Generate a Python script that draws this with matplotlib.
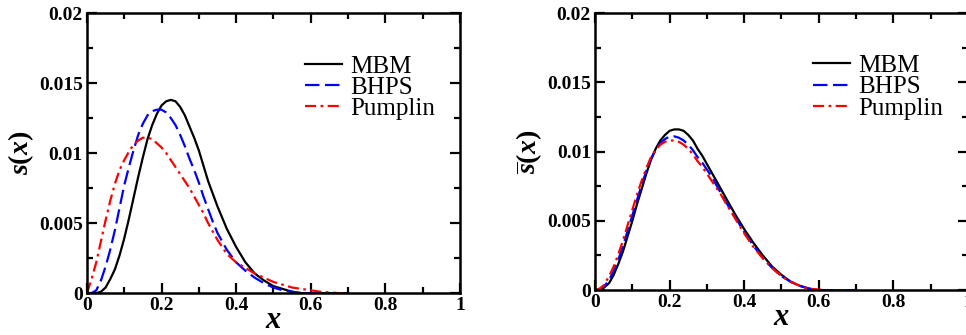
# Distribuições s(x) e s̄(x) para os modelos MBM, BHPS e Pumplin
import matplotlib
matplotlib.use("Agg")
import matplotlib.pyplot as plt
from matplotlib.ticker import MultipleLocator

plt.rcParams['font.family'] = ['Liberation Serif', 'DejaVu Serif']
plt.rcParams['mathtext.fontset'] = 'custom'
plt.rcParams['mathtext.rm'] = 'Liberation Serif:bold'
plt.rcParams['mathtext.it'] = 'Liberation Serif:bold:italic'

# Valores (passo mais fino até x = 0.35)
x = [0.0, 0.0125, 0.025, 0.0375, 0.05, 0.0625, 0.075, 0.0875, 0.1, 0.1125,
     0.125, 0.1375, 0.15, 0.1625, 0.175, 0.1875, 0.2, 0.2125, 0.225, 0.2375,
     0.25, 0.2625, 0.275, 0.2875, 0.3, 0.3125, 0.325, 0.3375, 0.35,
     0.375, 0.4, 0.425, 0.45, 0.475, 0.5, 0.525, 0.55, 0.575, 0.6, 0.625,
     0.65, 0.675, 0.7]

s_mbm = [0.0, 0.0, 0.0, 0.0001, 0.0004, 0.0010, 0.0017, 0.0027, 0.0039, 0.0053,
         0.0068, 0.0083, 0.0097, 0.0110, 0.0120, 0.0128, 0.0134, 0.0137, 0.0138, 0.0137,
         0.0133, 0.0127, 0.0119, 0.0111, 0.0102, 0.0091, 0.0080, 0.0071, 0.0062,
         0.0046, 0.0033, 0.0022, 0.0014, 0.0009, 0.0005, 0.0003, 0.0001, 0.0, 0.0, 0.0,
         0.0, 0.0, 0.0]
s_bhps = [0.0, 0.0, 0.0002, 0.0009, 0.0019, 0.0031, 0.0045, 0.0061, 0.0077, 0.0090,
          0.0102, 0.0113, 0.0121, 0.0127, 0.0130, 0.0131, 0.0131, 0.0129, 0.0125, 0.0120,
          0.0113, 0.0105, 0.0096, 0.0088, 0.0079, 0.0069, 0.0060, 0.0051, 0.0043,
          0.0031, 0.0022, 0.0016, 0.0011, 0.0007, 0.0004, 0.0002, 0.0001, 0.0, 0.0, 0.0,
          0.0, 0.0, 0.0]
s_pump = [0.0, 0.0010, 0.0022, 0.0037, 0.0052, 0.0066, 0.0078, 0.0088, 0.0095, 0.0101,
          0.0106, 0.0109, 0.0111, 0.0111, 0.0110, 0.0107, 0.0104, 0.0100, 0.0095, 0.0090,
          0.0085, 0.0080, 0.0075, 0.0069, 0.0063, 0.0057, 0.0050, 0.0044, 0.0038,
          0.0028, 0.0022, 0.0018, 0.0014, 0.0011, 0.0008, 0.0006, 0.0004, 0.0003, 0.0002,
          0.0001, 0.00005, 0.0, 0.0]

sb_mbm = [0.0, 0.0, 0.0002, 0.0005, 0.0011, 0.0019, 0.0028, 0.0039, 0.0050, 0.0062,
          0.0073, 0.0084, 0.0094, 0.0102, 0.0108, 0.0112, 0.0115, 0.0116, 0.0116, 0.0115,
          0.0112, 0.0108, 0.0102, 0.0097, 0.0091, 0.0085, 0.0079, 0.0073, 0.0067,
          0.0055, 0.0044, 0.0034, 0.0025, 0.0017, 0.0011, 0.0006, 0.0003, 0.0001, 0.0,
          0.0, 0.0, 0.0, 0.0]
sb_bhps = [0.0, 0.0001, 0.0003, 0.0007, 0.0014, 0.0022, 0.0032, 0.0043, 0.0054, 0.0065,
           0.0076, 0.0086, 0.0095, 0.0101, 0.0106, 0.0109, 0.0111, 0.0111, 0.0110, 0.0108,
           0.0105, 0.0101, 0.0096, 0.0092, 0.0087, 0.0082, 0.0076, 0.0070, 0.0064,
           0.0053, 0.0042, 0.0032, 0.0023, 0.0016, 0.0010, 0.0006, 0.0003, 0.0001, 0.0,
           0.0, 0.0, 0.0, 0.0]
sb_pump = [0.0, 0.0001, 0.0004, 0.0010, 0.0017, 0.0026, 0.0036, 0.0047, 0.0058, 0.0069,
           0.0079, 0.0088, 0.0096, 0.0101, 0.0105, 0.0107, 0.0108, 0.0108, 0.0107, 0.0105,
           0.0102, 0.0098, 0.0093, 0.0089, 0.0084, 0.0079, 0.0074, 0.0069, 0.0063,
           0.0052, 0.0041, 0.0031, 0.0023, 0.0016, 0.0010, 0.0006, 0.0003, 0.0001, 0.00003,
           0.0, 0.0, 0.0, 0.0]

labels = ["MBM", "BHPS", "Pumplin"]
yticks = [0, 0.005, 0.01, 0.015, 0.02]
ytick_labels = ["0", "0.005", "0.01", "0.015", "0.02"]
xticks = [0, 0.2, 0.4, 0.6, 0.8, 1]
xtick_labels = ["0", "0.2", "0.4", "0.6", "0.8", "1"]


def desenhaPainel(ax, curvas, ylabel):
    ax.plot(x, curvas[0], color="black", lw=1.6, ls="-", label=labels[0])
    ax.plot(x, curvas[1], color="blue", lw=1.6, ls=(0, (6.5, 2.5)), label=labels[1])
    ax.plot(x, curvas[2], color="red", lw=1.6, ls=(0, (5, 2, 1.2, 2)), label=labels[2])

    ax.set_xlim(0, 1)
    ax.set_ylim(0, 0.02)
    ax.set_xticks(xticks)
    ax.set_xticklabels(xtick_labels)
    ax.set_yticks(yticks)
    ax.set_yticklabels(ytick_labels)
    ax.xaxis.set_minor_locator(MultipleLocator(0.1))
    ax.yaxis.set_minor_locator(MultipleLocator(0.0025))
    ax.tick_params(which="both", direction="in", top=True, right=True, width=1.6)
    ax.tick_params(which="major", length=7, labelsize=14, pad=3)
    ax.tick_params(which="minor", length=4)
    for lab in ax.get_xticklabels() + ax.get_yticklabels():
        lab.set_fontweight("bold")
    for sp in ax.spines.values():
        sp.set_linewidth(1.8)

    ax.set_xlabel(r"$x$", fontsize=22, labelpad=-6)
    ax.set_ylabel(ylabel, fontsize=20, labelpad=2)

    ax.legend(loc="upper left", bbox_to_anchor=(0.584, 0.85), frameon=False,
              fontsize=18, handlelength=1.5, handletextpad=0.32,
              labelspacing=-0.05, borderpad=0, borderaxespad=0)


fig = plt.figure(figsize=(9.66, 3.35), dpi=100)
ax1 = fig.add_axes([0.090, 0.125, 0.386, 0.836])
ax2 = fig.add_axes([0.616, 0.134, 0.386, 0.827])

desenhaPainel(ax1, [s_mbm, s_bhps, s_pump], r"$s(x)$")
desenhaPainel(ax2, [sb_mbm, sb_bhps, sb_pump], r"$\overline{s}(x)$")

plt.savefig("out.png", dpi=100)
plt.close()
